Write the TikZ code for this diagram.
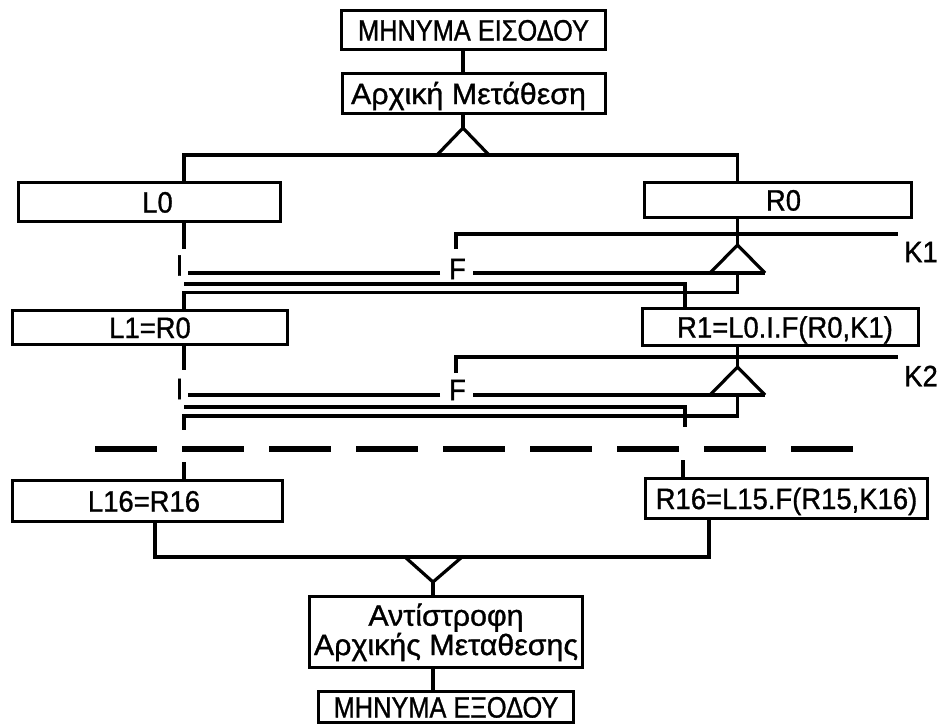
\documentclass[tikz,border=0pt]{standalone}
\usepackage{fontspec}
\setmainfont{Liberation Sans}[FakeStretch=0.93, FakeBold=1]
\newfontfamily\capsfont{Liberation Sans}[FakeStretch=0.86, FakeBold=1]
\newfontfamily\lowfont{Liberation Sans}[FakeStretch=1.03, FakeBold=1]

\tikzset{
  ln/.style={line width=3.2pt},
  box/.style={draw, line width=3.2pt, inner sep=0pt,
    font=\fontsize{29.5}{25}\selectfont, text height=21.1pt, text depth=0pt},
  lbl/.style={inner sep=0pt, font=\fontsize{29.5}{25}\selectfont},
  sep/.style={line width=6pt, dash pattern=on 62pt off 25pt},
}

\begin{document}
\begin{tikzpicture}[x=1pt, y=-1pt]
\clip[use as bounding box] (0,0) rectangle (945,724);
\fill[white] (0,0) rectangle (945,724);

% columns used by the connectors
\coordinate (xa) at (463,0);
\coordinate (xl) at (184,0);
\coordinate (xr) at (737.5,0);
\coordinate (xm) at (685,0);
\coordinate (xb) at (433,0);
\coordinate (xll) at (155,0);
\coordinate (xrr) at (709,0);

% boxes
\node[box, minimum width=264pt, minimum height=39pt] (msgin) at (473.5,30) {\capsfont ΜΗΝΥΜΑ ΕΙΣΟΔΟΥ};
\node[box, minimum width=263pt, minimum height=40pt] (ip) at (474,93.5) {\lowfont Αρχική Μετάθεση\hspace*{11pt}};
\node[box, minimum width=262pt, minimum height=39pt] (L0) at (149.5,202) {\hspace*{16pt}L0};
\node[box, minimum width=267pt, minimum height=35pt] (R0) at (778,200) {\hspace*{11pt}R0};
\node[box, minimum width=275pt, minimum height=34pt] (L1) at (150,327.5) {L1=R0};
\node[box, minimum width=276pt, minimum height=37pt] (R1) at (780.5,327) {\hspace*{9pt}R1=L0.I.F(R0,K1)};
\node[box, minimum width=270pt, minimum height=41pt] (L16) at (147.5,501) {L16=R16\hspace*{7pt}};
\node[box, minimum width=282pt, minimum height=40pt] (R16) at (786.5,498.5) {R16=L15.F(R15,K16)};
\node[box, minimum width=273pt, minimum height=71pt, align=center, text height=46.1pt, text depth=0pt] (inv) at (446,632)
  {\lowfont Αντίστροφη\\ \lowfont Αρχικής Μεταθεσης};
\node[box, minimum width=255pt, minimum height=31pt] (out) at (446,707) {\capsfont ΜΗΝΥΜΑ ΕΞΟΔΟΥ};

% initial permutation and split into the two halves
\coordinate (apx0) at (463,128);
\coordinate (split) at (463,155);
\coordinate (legl0) at (437,155);
\coordinate (legr0) at (489,155);
\draw[ln] (msgin.south -| xa) -- (ip.north -| xa);
\draw[ln] (ip.south -| xa) -- (apx0);
\draw[ln] (legl0) -- (apx0) -- (legr0);
\draw[ln] (L0.north -| xl) |- (split) -| (R0.north -| xr);

% round 1
\coordinate (k1end) at (898,234);
\coordinate (f1a) at (456,249);
\node[lbl] (f1) at (457.5,269) {F};
\node[lbl] (k1t) at (921,252) {K1};
\node[lbl] (x1) at (179.5,265.5) {I};
\coordinate (apx1) at (737.5,245);
\coordinate (tl1) at (710,273);
\coordinate (tr1) at (765,273);
\coordinate (fr1) at (473,273);
\coordinate (fl1) at (440,273);
\coordinate (lft1) at (188,273);
\coordinate (ld1) at (184,249);
\coordinate (xs1) at (184,284);
\coordinate (rt1) at (737.5,292.5);
\draw[ln] (f1a) |- (k1end);
\draw[ln] (R0.south -| xr) -- (apx1);
\draw[ln] (tl1) -- (apx1) -- (tr1);
\draw[ln] (fr1) -- (tr1);
\draw[ln] (fl1) -- (lft1);
\draw[ln] (L0.south -| xl) -- (ld1);
\draw[ln] (xs1) -| (R1.north -| xm);
\draw[ln] (tr1 -| xr) -- (rt1) -| (L1.north -| xl);

% round 2
\coordinate (k2end) at (898,357);
\coordinate (f2a) at (456,373);
\node[lbl] (f2) at (457.5,390) {F};
\node[lbl] (k2t) at (921,376) {K2};
\node[lbl] (x2) at (179.5,389) {I};
\coordinate (apx2) at (737.5,367);
\coordinate (tl2) at (710,395);
\coordinate (tr2) at (765,395);
\coordinate (fr2) at (473,395);
\coordinate (fl2) at (440,395);
\coordinate (lft2) at (188,395);
\coordinate (ld2) at (184,370);
\coordinate (xs2) at (184,407);
\coordinate (xe2) at (685,427);
\coordinate (rt2) at (737.5,416);
\coordinate (le2) at (184,430);
\draw[ln] (f2a) |- (k2end);
\draw[ln] (R1.south -| xr) -- (apx2);
\draw[ln] (tl2) -- (apx2) -- (tr2);
\draw[ln] (fr2) -- (tr2);
\draw[ln] (fl2) -- (lft2);
\draw[ln] (L1.south -| xl) -- (ld2);
\draw[ln] (xs2) -| (xe2);
\draw[ln] (tr2 -| xr) -- (rt2) -| (le2);

% rounds left out
\coordinate (dl) at (95,449);
\coordinate (dr) at (853,449);
\draw[sep] (dl) -- (dr);

% round 16
\coordinate (cl16) at (184,462);
\coordinate (cr16) at (683,460);
\draw[ln] (cl16) -- (L16.north -| cl16);
\draw[ln] (cr16) -- (R16.north -| cr16);

% join and inverse permutation
\coordinate (join) at (433,557);
\coordinate (vl) at (405,557);
\coordinate (vr) at (462,557);
\coordinate (apx9) at (433,582);
\draw[ln] (L16.south -| xll) |- (join) -| (R16.south -| xrr);
\draw[ln] (vl) -- (apx9) -- (vr);
\draw[ln] (apx9) -- (inv.north -| xb);
\draw[ln] (inv.south -| xb) -- (out.north -| xb);
\end{tikzpicture}
\end{document}
